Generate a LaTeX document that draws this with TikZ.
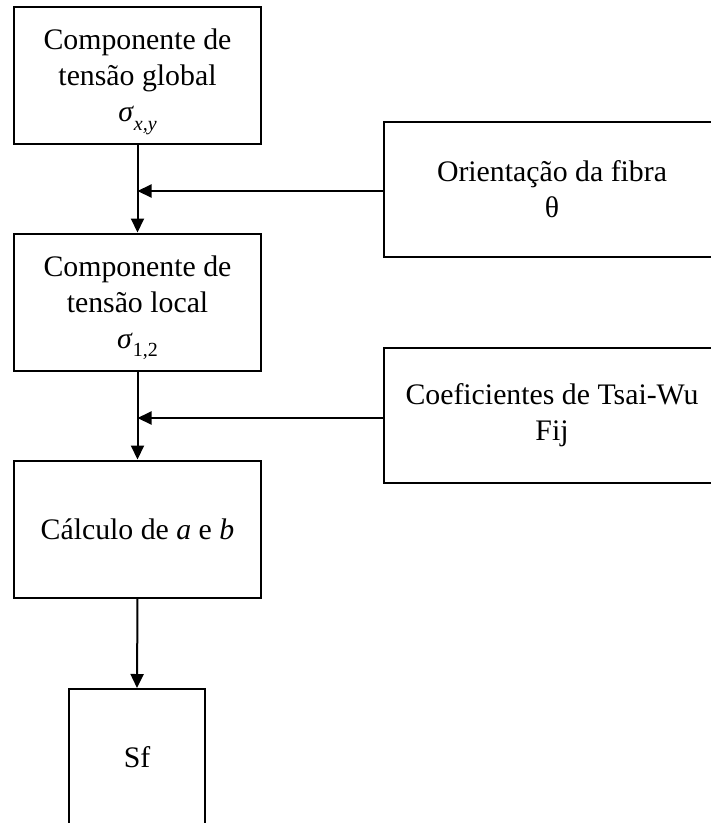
\documentclass[tikz,border=0pt]{standalone}
\usepackage{fontspec}
\setmainfont{Liberation Serif}
\usetikzlibrary{arrows.meta,calc}

% lowered subscript that takes no extra depth
\newcommand{\lowsub}[1]{\raisebox{-0.28em}[0pt][0pt]{\fontsize{20}{20}\selectfont #1}}

\begin{document}
\begin{tikzpicture}[x=1pt,y=-1pt,
  box/.style={draw, line width=2pt, align=center, inner sep=0pt,
              font=\fontsize{29.8}{36}\selectfont},
  mainbox/.style={box, minimum width=247pt, minimum height=137pt},
  sidebox/.style={box, minimum width=336pt, minimum height=135pt},
  flow/.style={line width=2pt, -{Triangle[length=14pt,width=13pt]}}
]
  \clip (0,0) rectangle (711,823);
  \fill[white] (0,0) rectangle (711,823);

  % main chain
  \node[mainbox] (glob) at (137.5,75.5)
    {Componente de\\tensão global\\\textit{σ}\lowsub{\textit{x,y}}};
  \node[mainbox] (loc) at (137.5,302)
    {Componente de\\tensão local\\\textit{σ}\lowsub{1,2}};
  \node[mainbox] (calc) at (137.5,529)
    {Cálculo de \textit{a} e \textit{b}};
  \node[box, minimum width=136pt, minimum height=136pt] (sf) at (137,757) {Sf};

  % inputs on the right
  \node[sidebox] (fib) at (552,189.5) {Orientação da fibra\\θ};
  \node[sidebox] (tw) at (552,415.5) {Coeficientes de Tsai-Wu\\Fij};

  % vertical flow
  \draw[flow] (glob.south) -- (loc.north);
  \draw[flow] (loc.south) -- (calc.north);
  \draw[flow] (calc.south) -- (sf.north);

  % side inputs joining the vertical lines
  \coordinate (j1) at ($(glob.south)!(fib.west)!(loc.north)$);
  \coordinate (j2) at ($(loc.south)!(tw.west)!(calc.north)$);
  \draw[flow] ([yshift=-1.5pt]fib.west) -- ([yshift=-1.5pt]j1);
  \draw[flow] ([yshift=-2.5pt]tw.west) -- ([yshift=-2.5pt]j2);
\end{tikzpicture}
\end{document}
